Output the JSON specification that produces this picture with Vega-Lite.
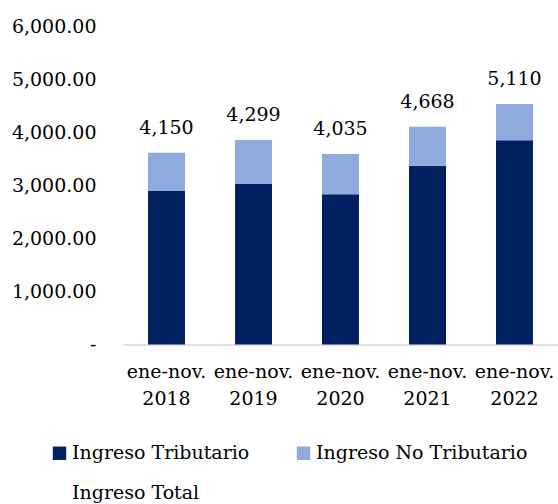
{
  "$schema": "https://vega.github.io/schema/vega-lite/v6.json",
  "autosize": "none",
  "width": 435,
  "height": 318,
  "padding": {"left": 123, "top": 26.5, "right": 0, "bottom": 159.5},
  "background": "white",
  "config": {
    "font": "DejaVu Serif",
    "axis": {"labelFont": "DejaVu Serif"},
    "legend": {"labelFont": "DejaVu Serif"},
    "text": {"font": "DejaVu Serif"},
    "view": {"stroke": null}
  },
  "data": {
    "values": [
      {"periodo": "ene-nov. 2018", "tipo": "Ingreso Tributario", "valor": 2896, "total": 4150},
      {"periodo": "ene-nov. 2018", "tipo": "Ingreso No Tributario", "valor": 723, "total": 4150},
      {"periodo": "ene-nov. 2019", "tipo": "Ingreso Tributario", "valor": 3028, "total": 4299},
      {"periodo": "ene-nov. 2019", "tipo": "Ingreso No Tributario", "valor": 830, "total": 4299},
      {"periodo": "ene-nov. 2020", "tipo": "Ingreso Tributario", "valor": 2834, "total": 4035},
      {"periodo": "ene-nov. 2020", "tipo": "Ingreso No Tributario", "valor": 760, "total": 4035},
      {"periodo": "ene-nov. 2021", "tipo": "Ingreso Tributario", "valor": 3374, "total": 4668},
      {"periodo": "ene-nov. 2021", "tipo": "Ingreso No Tributario", "valor": 735, "total": 4668},
      {"periodo": "ene-nov. 2022", "tipo": "Ingreso Tributario", "valor": 3853, "total": 5110},
      {"periodo": "ene-nov. 2022", "tipo": "Ingreso No Tributario", "valor": 685, "total": 5110}
    ]
  },
  "encoding": {
    "x": {
      "field": "periodo",
      "type": "nominal",
      "sort": null,
      "scale": {"paddingInner": 0.575, "paddingOuter": 0.2875},
      "axis": {
        "title": null,
        "labelAngle": 0,
        "labelExpr": "split(datum.label, ' ')",
        "labelFontSize": 19,
        "labelColor": "#000000",
        "labelLineHeight": 27,
        "labelPadding": 33,
        "labelBaseline": "alphabetic",
        "ticks": false,
        "domainColor": "#d9d9d9",
        "domainWidth": 1.5,
        "grid": false
      }
    }
  },
  "layer": [
    {
      "mark": {"type": "bar"},
      "transform": [
        {"calculate": "indexof(['Ingreso Tributario','Ingreso No Tributario'], datum.tipo)", "as": "orden"}
      ],
      "encoding": {
        "y": {
          "field": "valor",
          "type": "quantitative",
          "stack": "zero",
          "scale": {"domain": [0, 6000], "nice": false},
          "axis": {
            "title": null,
            "values": [0, 1000, 2000, 3000, 4000, 5000, 6000],
            "labelExpr": "datum.value == 0 ? '-\u2007' : format(datum.value, ',.2f')",
            "labelFontSize": 19,
            "labelColor": "#000000",
            "labelPadding": 27,
            "ticks": false,
            "domain": false,
            "grid": false
          }
        },
        "order": {"field": "orden", "type": "quantitative"},
        "color": {
          "field": "tipo",
          "type": "nominal",
          "scale": {
            "domain": ["Ingreso Tributario", "Ingreso No Tributario", "Ingreso Total"],
            "range": ["#002060", "#8faadc", "#ffffff"]
          },
          "legend": {
            "title": null,
            "orient": "none",
            "legendX": -73,
            "legendY": 417,
            "direction": "horizontal",
            "columns": 2,
            "columnPadding": 44,
            "rowPadding": 20,
            "symbolType": "square",
            "symbolSize": 180,
            "symbolStrokeWidth": 0,
            "labelFontSize": 19,
            "labelColor": "#000000",
            "labelOffset": 3,
            "labelLimit": 400
          }
        }
      }
    },
    {
      "transform": [
        {"aggregate": [{"op": "sum", "field": "valor", "as": "suma"}, {"op": "max", "field": "total", "as": "total"}], "groupby": ["periodo"]}
      ],
      "mark": {"type": "text", "baseline": "alphabetic", "dy": -19, "fontSize": 19, "color": "#000000"},
      "encoding": {
        "y": {"field": "suma", "type": "quantitative"},
        "text": {"field": "total", "type": "quantitative", "format": ",.0f"}
      }
    }
  ]
}
